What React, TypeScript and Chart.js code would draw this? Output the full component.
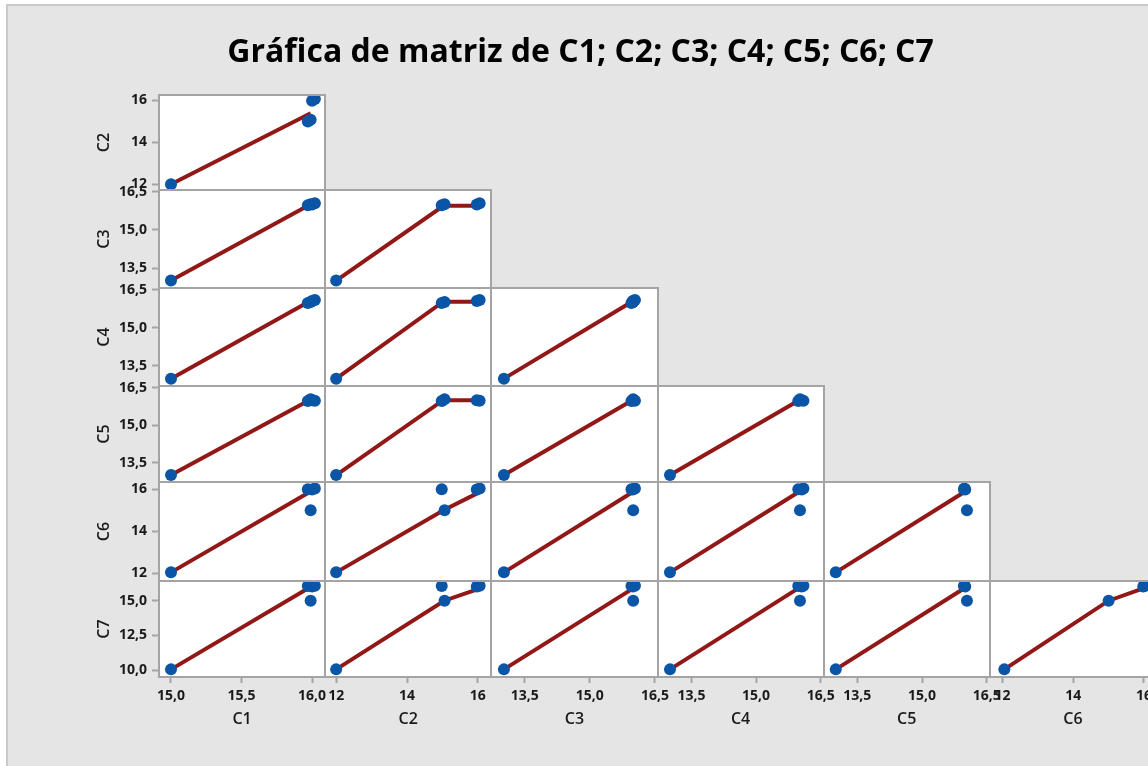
import React, { useEffect, useRef } from 'react';
import { Chart, registerables } from 'chart.js';

Chart.register(...registerables);

const TITLE = 'Gráfica de matriz de C1; C2; C3; C4; C5; C6; C7';
const VARIABLE_NAMES = ['C1', 'C2', 'C3', 'C4', 'C5', 'C6', 'C7'];

// Observations (5 rows), values as read from the plotted (jittered) points
const C1 = [15.0, 15.99, 15.97, 16.0, 16.02];
const C2 = [12.0, 15.06, 14.98, 15.97, 16.05];
const C3 = [13.02, 16.0, 15.96, 15.99, 16.04];
const C4 = [13.0, 16.02, 15.98, 16.06, 16.1];
const C5 = [13.0, 16.04, 15.97, 16.0, 15.98];
const C6 = [12.05, 15.0, 16.0, 15.98, 16.03];
const C7 = [10.05, 15.0, 16.06, 16.02, 16.08];

// Axis ranges
const C1_X_RANGE = [14.915, 16.093];
const C2_X_RANGE = [11.69, 16.38];
const C3_X_RANGE = [12.73, 16.56];
const C4_X_RANGE = [12.71, 16.57];
const C5_X_RANGE = [12.72, 16.57];
const C6_X_RANGE = [11.64, 16.34];
const C2_Y_RANGE = [11.73, 16.24];
const C3_Y_RANGE = [12.73, 16.56];
const C4_Y_RANGE = [12.71, 16.57];
const C5_Y_RANGE = [12.72, 16.57];
const C6_Y_RANGE = [11.64, 16.34];
const C7_Y_RANGE = [9.5, 16.42];

// Tick values and labels
const C1_TICKS = [15, 15.5, 16];
const C1_TICK_LABELS = ['15,0', '15,5', '16,0'];
const C2_TICKS = [12, 14, 16];
const C2_TICK_LABELS = ['12', '14', '16'];
const C3_TICKS = [13.5, 15, 16.5];
const C3_TICK_LABELS = ['13,5', '15,0', '16,5'];
const C4_TICKS = [13.5, 15, 16.5];
const C4_TICK_LABELS = ['13,5', '15,0', '16,5'];
const C5_TICKS = [13.5, 15, 16.5];
const C5_TICK_LABELS = ['13,5', '15,0', '16,5'];
const C6_TICKS = [12, 14, 16];
const C6_TICK_LABELS = ['12', '14', '16'];
const C7_TICKS = [10, 12.5, 15];
const C7_TICK_LABELS = ['10,0', '12,5', '15,0'];

// Smoother (lowess) fit lines per panel, [x, y] vertices
const FIT_C1_C2 = [[15.0, 12.0], [15.99, 15.37]];
const FIT_C1_C3 = [[15.0, 13.02], [15.98, 15.97]];
const FIT_C2_C3 = [[12.0, 13.02], [15.03, 15.94], [15.95, 15.94]];
const FIT_C1_C4 = [[15.0, 13.0], [15.98, 16.04]];
const FIT_C2_C4 = [[12.0, 13.0], [15.02, 16.03], [16.0, 16.03]];
const FIT_C3_C4 = [[13.02, 13.0], [15.98, 16.04]];
const FIT_C1_C5 = [[15.0, 13.0], [15.98, 16.0]];
const FIT_C2_C5 = [[12.0, 13.0], [15.02, 16.0], [16.05, 16.0]];
const FIT_C3_C5 = [[13.02, 13.0], [15.98, 16.0]];
const FIT_C4_C5 = [[13.0, 13.0], [16.0, 16.0]];
const FIT_C1_C6 = [[15.0, 12.05], [15.98, 15.85]];
const FIT_C2_C6 = [[12.0, 12.05], [15.03, 15.0], [15.98, 15.8]];
const FIT_C3_C6 = [[13.02, 12.05], [15.98, 15.85]];
const FIT_C4_C6 = [[13.0, 12.05], [15.98, 15.85]];
const FIT_C5_C6 = [[13.0, 12.05], [15.97, 15.85]];
const FIT_C1_C7 = [[15.0, 10.05], [15.97, 15.88]];
const FIT_C2_C7 = [[12.0, 10.05], [15.05, 15.0], [15.96, 15.8]];
const FIT_C3_C7 = [[13.02, 10.05], [15.98, 15.85]];
const FIT_C4_C7 = [[13.0, 10.05], [15.96, 15.85]];
const FIT_C5_C7 = [[13.0, 10.05], [15.97, 15.88]];
const FIT_C6_C7 = [[12.05, 10.05], [15.0, 15.0], [16.0, 15.9]];

const OBSERVATIONS = [C1, C2, C3, C4, C5, C6, C7];
const X_RANGES = [C1_X_RANGE, C2_X_RANGE, C3_X_RANGE, C4_X_RANGE, C5_X_RANGE, C6_X_RANGE];
const Y_RANGES = [null, C2_Y_RANGE, C3_Y_RANGE, C4_Y_RANGE, C5_Y_RANGE, C6_Y_RANGE, C7_Y_RANGE];
const TICKS = [C1_TICKS, C2_TICKS, C3_TICKS, C4_TICKS, C5_TICKS, C6_TICKS, C7_TICKS];
const TICK_LABELS = [C1_TICK_LABELS, C2_TICK_LABELS, C3_TICK_LABELS, C4_TICK_LABELS, C5_TICK_LABELS, C6_TICK_LABELS, C7_TICK_LABELS];
const FITS: Record<string, number[][]> = {
  '0-1': FIT_C1_C2, '0-2': FIT_C1_C3, '1-2': FIT_C2_C3,
  '0-3': FIT_C1_C4, '1-3': FIT_C2_C4, '2-3': FIT_C3_C4,
  '0-4': FIT_C1_C5, '1-4': FIT_C2_C5, '2-4': FIT_C3_C5, '3-4': FIT_C4_C5,
  '0-5': FIT_C1_C6, '1-5': FIT_C2_C6, '2-5': FIT_C3_C6, '3-5': FIT_C4_C6, '4-5': FIT_C5_C6,
  '0-6': FIT_C1_C7, '1-6': FIT_C2_C7, '2-6': FIT_C3_C7, '3-6': FIT_C4_C7, '4-6': FIT_C5_C7, '5-6': FIT_C6_C7,
};

const ROW_WEIGHTS = [95, 98, 98, 96, 99, 96];

const FONT = '"Open Sans", "Noto Sans", sans-serif';
const POINT_COLOR = '#0a55a6';
const FIT_COLOR = '#921717';
const PANEL_BORDER = '#a4a4a4';
const TEXT_COLOR = '#1a1a1a';

const panelPlugin = {
  id: 'matrixPanels',
  beforeDraw(chart: any) {
    const ctx = chart.ctx;
    ctx.save();
    ctx.fillStyle = '#ffffff';
    for (let r = 1; r < 7; r++) {
      for (let c = 0; c < r; c++) {
        const xs = chart.scales['x' + (c + 1)];
        const ys = chart.scales['y' + (r + 1)];
        ctx.fillRect(xs.left, ys.top, xs.right - xs.left, ys.bottom - ys.top);
      }
    }
    ctx.restore();
  },
  afterDatasetsDraw(chart: any) {
    const ctx = chart.ctx;
    ctx.save();
    ctx.strokeStyle = PANEL_BORDER;
    ctx.lineWidth = 2;
    for (let r = 1; r < 7; r++) {
      for (let c = 0; c < r; c++) {
        const xs = chart.scales['x' + (c + 1)];
        const ys = chart.scales['y' + (r + 1)];
        ctx.strokeRect(Math.round(xs.left), Math.round(ys.top), Math.round(xs.right) - Math.round(xs.left), Math.round(ys.bottom) - Math.round(ys.top));
      }
    }
    ctx.restore();
  },
  afterDraw(chart: any) {
    const ctx = chart.ctx;
    ctx.save();
    ctx.font = 'bold 32px ' + FONT;
    ctx.fillStyle = '#000000';
    ctx.textAlign = 'center';
    ctx.textBaseline = 'middle';
    ctx.fillText(TITLE, 572.5, 47);
    ctx.restore();
  },
};

function buildConfig(): any {
  const scales: any = {};
  const tickFont = { family: FONT, size: 14, weight: 'bold' };
  const titleFont = { family: FONT, size: 16, weight: '600', lineHeight: 1.2 };
  const grid = {
    display: true,
    drawOnChartArea: false,
    drawTicks: true,
    tickColor: PANEL_BORDER,
    tickWidth: 2,
    color: PANEL_BORDER,
  };
  for (let c = 0; c < 6; c++) {
    const ticks = TICKS[c];
    const labels = TICK_LABELS[c];
    scales['x' + (c + 1)] = {
      type: 'linear',
      position: 'bottom',
      stack: 'cols',
      stackWeight: 1,
      weight: c + 1,
      min: X_RANGES[c][0],
      max: X_RANGES[c][1],
      afterBuildTicks: (s: any) => { s.ticks = ticks.map((v) => ({ value: v })); },
      afterFit: (s: any) => { s.height = 60; },
      ticks: {
        autoSkip: false, maxRotation: 0, minRotation: 0, padding: 5,
        font: tickFont, color: TEXT_COLOR,
        callback: (_v: any, i: number) => labels[i],
      },
      grid: { ...grid, tickLength: 6 },
      border: { display: false },
      title: { display: true, text: VARIABLE_NAMES[c], font: titleFont, color: TEXT_COLOR, padding: { top: 0, bottom: 8 } },
    };
  }
  for (let r = 1; r < 7; r++) {
    const ticks = TICKS[r];
    const labels = TICK_LABELS[r];
    scales['y' + (r + 1)] = {
      type: 'linear',
      position: 'left',
      stack: 'rows',
      stackWeight: ROW_WEIGHTS[r - 1],
      weight: 10 - r,
      min: (Y_RANGES[r] as number[])[0],
      max: (Y_RANGES[r] as number[])[1],
      afterBuildTicks: (s: any) => { s.ticks = ticks.map((v) => ({ value: v })); },
      afterFit: (s: any) => { s.width = 151; },
      ticks: {
        autoSkip: false, padding: 5,
        font: tickFont, color: TEXT_COLOR,
        callback: (_v: any, i: number) => labels[i],
      },
      grid: { ...grid, tickLength: 7 },
      border: { display: false },
      title: { display: true, text: VARIABLE_NAMES[r], font: titleFont, color: TEXT_COLOR, padding: { top: 87, bottom: 0 } },
    };
  }

  const datasets: any[] = [];
  for (let r = 1; r < 7; r++) {
    for (let c = 0; c < r; c++) {
      const xv = OBSERVATIONS[c];
      const yv = OBSERVATIONS[r];
      datasets.push({
        type: 'scatter',
        label: VARIABLE_NAMES[r] + ' vs ' + VARIABLE_NAMES[c],
        data: xv.map((x, k) => ({ x, y: yv[k] })),
        xAxisID: 'x' + (c + 1),
        yAxisID: 'y' + (r + 1),
        backgroundColor: POINT_COLOR,
        borderWidth: 0,
        pointRadius: 6,
        pointHoverRadius: 6,
        order: 0,
      });
      const fit = FITS[c + '-' + r];
      datasets.push({
        type: 'scatter',
        label: 'fit ' + VARIABLE_NAMES[r] + ' vs ' + VARIABLE_NAMES[c],
        data: fit.map((p) => ({ x: p[0], y: p[1] })),
        xAxisID: 'x' + (c + 1),
        yAxisID: 'y' + (r + 1),
        showLine: true,
        borderColor: FIT_COLOR,
        borderWidth: 4,
        pointRadius: 0,
        pointHoverRadius: 0,
        order: 1,
      });
    }
  }

  return {
    type: 'scatter',
    data: { datasets },
    options: {
      responsive: false,
      animation: false,
      events: [],
      layout: { padding: { top: 89, left: 0, right: 72, bottom: 29 } },
      plugins: { legend: { display: false }, tooltip: { enabled: false }, title: { display: false } },
      scales,
    },
    plugins: [panelPlugin],
  };
}

export default function App() {
  const ref = useRef<HTMLCanvasElement>(null);
  useEffect(() => {
    const canvas = ref.current;
    if (!canvas) return;
    const chart = new Chart(canvas, buildConfig());
    return () => chart.destroy();
  }, []);
  return (
    <div
      style={{
        position: 'absolute',
        left: 6,
        top: 4,
        width: 1142,
        height: 762,
        overflow: 'hidden',
        background: '#e5e5e5',
        borderTop: '2px solid #c9c9c9',
        borderLeft: '2px solid #c9c9c9',
        boxSizing: 'border-box',
      }}
    >
      <canvas ref={ref} width={1220} height={760} style={{ display: 'block', width: 1220, height: 760 }} />
    </div>
  );
}
